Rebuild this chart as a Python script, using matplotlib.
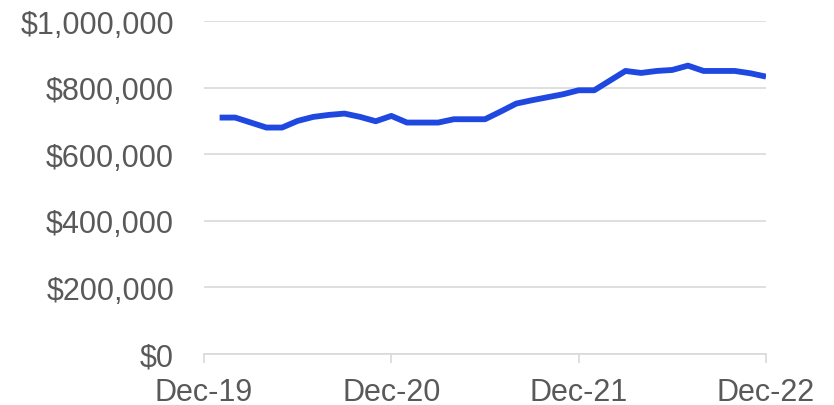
import matplotlib.pyplot as plt
from matplotlib.ticker import FuncFormatter

# monthly median value, Jan-20 .. Dec-22
months = [f"{m}-{y}" for y in (20, 21, 22)
          for m in ["Jan", "Feb", "Mar", "Apr", "May", "Jun",
                    "Jul", "Aug", "Sep", "Oct", "Nov", "Dec"]]
values = [710000, 710000, 695000, 680000, 680000, 700000,
          712000, 718000, 722000, 712000, 699000, 715000,
          695000, 695000, 695000, 705000, 705000, 705000,
          728000, 752000, 762000, 771000, 780000, 792000,
          792000, 821000, 850000, 844000, 850000, 853000,
          866000, 850000, 850000, 850000, 843000, 833000]

tick_pos = [0, 12, 24, 36]
tick_labels = ["Dec-19", "Dec-20", "Dec-21", "Dec-22"]

plt.rcParams['font.family'] = ['Liberation Sans', 'DejaVu Sans']
grey = '#595959'

fig = plt.figure(figsize=(8.34, 4.06), dpi=100)
ax = fig.add_axes([204 / 834, 1 - 355 / 406, 562 / 834, 333 / 406])

x = list(range(1, len(months) + 1))
ax.plot(x, values, color='#1f48e0', linewidth=4.2, solid_joinstyle='round',
        solid_capstyle='butt', zorder=3)

ax.set_xlim(0, 36)
ax.set_ylim(0, 1000000)
ax.set_yticks(range(0, 1000001, 200000))
ax.yaxis.set_major_formatter(FuncFormatter(lambda v, p: f"${v:,.0f}"))
ax.set_xticks(tick_pos)
ax.set_xticklabels(tick_labels)

ax.grid(axis='y', color='#d9d9d9', linewidth=1.2)
ax.set_axisbelow(True)
for s in ['top', 'right', 'left']:
    ax.spines[s].set_visible(False)
ax.spines['bottom'].set_color('#d9d9d9')
ax.spines['bottom'].set_linewidth(1.2)

ax.tick_params(axis='y', length=0, pad=21.5, labelsize=22, labelcolor=grey)
ax.tick_params(axis='x', length=6.5, width=1.2, color='#d9d9d9', pad=10,
               labelsize=22, labelcolor=grey)

fig.savefig('out.png', dpi=100)
